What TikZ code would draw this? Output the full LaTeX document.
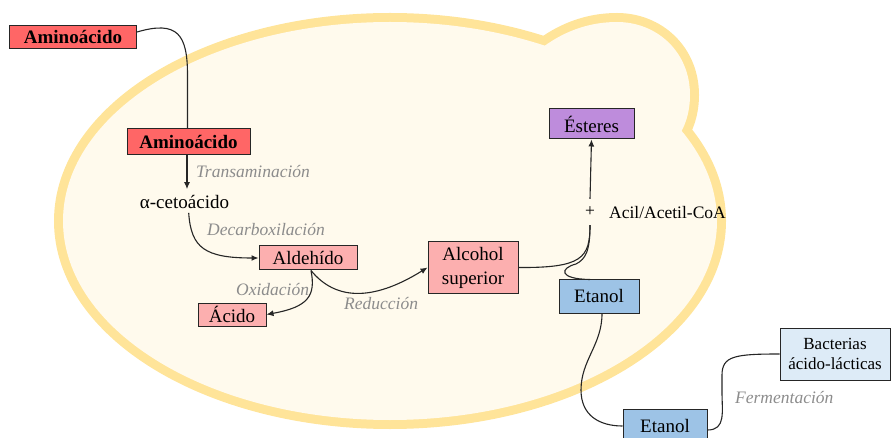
\documentclass[tikz,border=0pt]{standalone}
\usepackage{fontspec}
\setmainfont{Liberation Serif}
\usetikzlibrary{arrows.meta}
\definecolor{cellband}{RGB}{255,228,153}
\definecolor{cellfill}{RGB}{255,250,237}
\definecolor{aminored}{RGB}{255,102,102}
\definecolor{pinkbox}{RGB}{252,175,175}
\definecolor{purplebox}{RGB}{190,140,220}
\definecolor{bluebox}{RGB}{157,195,230}
\definecolor{lightbluebox}{RGB}{221,235,247}
\definecolor{labelgray}{RGB}{140,140,140}
\def\mybud{(543,47) .. controls (566,30) and (591,22) .. (617,22) .. controls (657,22) and (690,52) .. (690,95) .. controls (690,140) and (657,168) .. (617,168) .. controls (577,168) and (545,140) .. (540,100) .. controls (537,75) and (533,58) .. (543,47) -- cycle}
\begin{document}
\begin{tikzpicture}[x=1pt,y=-1pt,
  box/.style={draw=black!85, line width=1pt, inner sep=0pt, align=center, font=\fontsize{19}{24}\selectfont},
  boldbox/.style={box, font=\fontsize{19}{24}\selectfont\bfseries},
  lbl/.style={text=labelgray, font=\fontsize{17.5}{20}\selectfont\itshape, inner sep=0pt, anchor=west},
  conn/.style={line width=1.1pt, draw=black!85},
  arr/.style={conn, -{Latex[length=7pt,width=6pt]}}]
\useasboundingbox (0,0) rectangle (891,438);
% cell
\path[draw=cellband, line width=18pt] (390,221) ellipse [x radius=327pt, y radius=199pt];
\path[draw=cellband, line width=18pt] \mybud;
\fill[cellfill] (390,221) ellipse [x radius=327pt, y radius=199pt];
\fill[cellfill] \mybud;
% nodes
\node[boldbox, fill=aminored, minimum width=127pt, minimum height=23pt] (amino1) at (73,37) {Aminoácido};
\node[boldbox, fill=aminored, minimum width=123pt, minimum height=26pt] (amino2) at (188.5,142) {Aminoácido};
\node[font=\fontsize{19}{24}\selectfont, inner sep=1pt] (ceto) at (184.5,202) {α-cetoácido};
\node[box, fill=pinkbox, minimum width=98pt, minimum height=24pt] (aldeh) at (308,258) {Aldehído};
\node[box, fill=pinkbox, minimum width=68pt, minimum height=23pt] (acido) at (232,314.5) {Ácido};
\node[box, fill=pinkbox, minimum width=90pt, minimum height=51pt] (alcohol) at (473,267.5) {Alcohol\\superior};
\node[box, fill=purplebox, minimum width=85pt, minimum height=30pt] (esteres) at (591.5,124) {Ésteres};
\node[inner sep=0pt, minimum height=26pt, font=\fontsize{17.5}{20}\selectfont] (plus) at (590,212) {+};
\node[anchor=west, inner sep=0pt, font=\fontsize{17.5}{20}\selectfont] (acil) at (609,213) {Acil/Acetil-CoA};
\node[box, fill=bluebox, minimum width=80pt, minimum height=33pt] (etanol1) at (599,296.5) {Etanol};
\node[box, fill=bluebox, minimum width=84pt, minimum height=34pt] (etanol2) at (665,426) {Etanol};
\node[box, fill=lightbluebox, minimum width=110pt, minimum height=52pt, font=\fontsize{17}{20}\selectfont] (bact) at (835,354) {Bacterias\\ácido-lácticas};
% labels
\node[lbl] (ltrans) at (196,172) {Transaminación};
\node[lbl] (ldecarb) at (207,230) {Decarboxilación};
\node[lbl] (loxid) at (236,290) {Oxidación};
\node[lbl] (lreduc) at (344,304) {Reducción};
\node[lbl] (lferm) at (735,398) {Fermentación};
% connectors
\draw[conn] ([yshift=5pt]amino1.east) .. controls (178,20) and (187.5,35) .. (187.5,75) -- ([xshift=-1pt]amino2.north);
\draw[arr, shorten >=5pt] ([xshift=-1.5pt]amino2.south) -- ([xshift=-1.5pt]amino2.south |- ceto.north);
\draw[arr, shorten <=3pt] ([xshift=4pt]ceto.south) .. controls (191,248) and (205,258) .. (aldeh.west);
\draw[arr] ([xshift=3pt]aldeh.south) .. controls (316,296) and (308,307) .. (acido.east);
\draw[arr] ([xshift=3pt]aldeh.south) .. controls (335,300) and (372,302) .. (alcohol.west);
\draw[arr] (plus.north) -- (esteres.south);
\draw[conn] (alcohol.east) .. controls (582,268) and (590,258) .. (plus.south);
\draw[conn] ([xshift=-9pt]etanol1.north) .. controls (558,279) and (560,268) .. (576,264) .. controls (586,259) and (590,250) .. (plus.south);
\draw[conn] ([xshift=3pt]etanol1.south) .. controls (602,345) and (581,360) .. (581,390) .. controls (581,416) and (600,426) .. (etanol2.west);
\draw[conn] ([yshift=-4pt]etanol2.east) .. controls (726,430) and (722,412) .. (722,392) -- (722,375) .. controls (722,356) and (735,354) .. (bact.west);
\end{tikzpicture}
\end{document}
